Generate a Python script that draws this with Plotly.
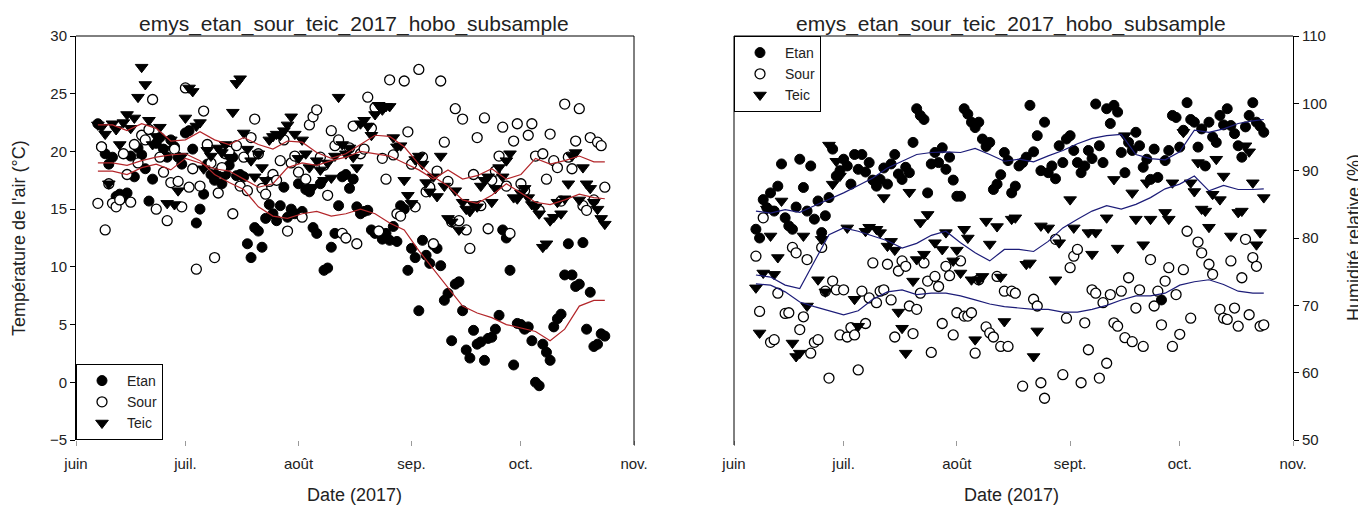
import plotly.graph_objects as go
import pandas as pd

# ---------------- data ----------------
dates = pd.date_range("2017-06-07", periods=140, freq="D")

temp_etan = [22.4, 20.4, 19.8, 18.9, 19.5, 16.1, 16.3, 16.0, 16.4, 19.6,
             17.8, 20.3, 19.7, 18.5, 15.7, 17.6, 20.7, 21.2, 20.2, 19.5,
             21.0, 20.4, 19.5, 18.9, 21.6, 21.8, 20.2, 13.8, 15.0, 16.3,
             18.9, 18.0, 17.5, 18.2, 17.2, 18.0, 18.8, 19.5, 17.9, 18.0,
             17.8, 12.0, 10.8, 13.4, 13.1, 11.7, 14.2, 15.4, 14.6, 14.0,
             15.3, 16.9, 14.3, 15.0, 14.6, 17.2, 14.8, 16.7, 16.5, 13.4,
             12.9, 17.2, 9.7, 9.9, 11.7, 12.9, 15.3, 17.8, 18.0, 16.8,
             17.6, 15.2, 14.6, 14.8, 14.9, 13.2, 12.9, 13.1, 12.4, 12.9,
             12.3, 13.5, 12.2, 15.3, 15.0, 9.7, 11.6, 10.8, 6.2, 12.3,
             11.0, 10.3, 11.9, 11.6, 10.1, 7.1, 7.7, 3.6, 8.5, 8.7,
             6.2, 2.8, 2.1, 4.5, 3.3, 3.5, 1.9, 3.8, 3.9, 4.6,
             5.8, 13.2, 12.5, 9.7, 1.5, 5.1, 5.0, 4.6, 4.8, 3.6,
             0.0, -0.3, 3.3, 2.6, 1.9, 4.8, 5.5, 5.9, 9.3, 12.0,
             9.3, 8.3, 8.5, 12.1, 4.6, 7.8, 3.1, 3.3, 4.2, 4.0]

temp_sour = [15.5, 20.4, 13.2, 17.2, 15.5, 15.2, 15.8, 19.8, 18.0, 15.6,
             20.6, 19.0, 21.4, 21.0, 21.9, 24.5, 15.0, 19.5, 18.2, 14.0,
             17.3, 20.2, 17.4, 15.2, 25.5, 16.9, 18.5, 9.8, 17.0, 23.5,
             20.6, 19.0, 10.8, 16.4, 18.6, 19.8, 20.0, 14.6, 20.5, 17.0,
             19.5, 16.6, 21.2, 22.8, 19.8, 16.8, 16.3, 17.4, 18.0, 17.5,
             19.2, 21.0, 13.1, 19.0, 19.6, 18.2, 14.3, 17.6, 22.3, 23.0,
             23.6, 19.5, 18.8, 16.2, 21.8, 20.5, 21.0, 12.9, 12.5, 20.3,
             22.2, 12.0, 19.8, 20.2, 24.7, 22.0, 23.8, 13.1, 19.4, 17.6,
             26.2, 19.7, 14.6, 14.4, 26.1, 21.7, 18.9, 15.2, 27.1, 19.5,
             16.5, 16.9, 12.0, 18.3, 26.1, 20.8, 17.4, 13.9, 23.7, 14.0,
             22.8, 13.2, 11.6, 18.0, 21.2, 15.3, 22.9, 13.3, 17.5, 18.3,
             19.6, 22.1, 17.0, 12.9, 20.9, 22.4, 17.2, 16.6, 21.4, 22.4,
             19.6, 14.9, 19.8, 17.6, 21.5, 19.2, 18.6, 15.7, 24.1, 19.5,
             18.5, 20.9, 23.7, 15.3, 14.9, 21.2, 15.8, 20.8, 20.5, 16.9]

temp_teic = [22.3, 22.1, 21.5, 17.2, 22.4, 21.9, 20.6, 22.5, 23.2, 22.0,
             22.9, 24.7, 27.3, 25.8, 22.7, 20.6, 21.3, 22.1, 20.2, 15.5,
             21.0, 15.4, 16.6, 19.6, 22.9, 25.5, 25.2, 22.2, 22.5, 18.5,
             20.1, 19.6, 18.0, 20.3, 19.9, 20.6, 19.5, 23.4, 25.9, 26.3,
             21.6, 20.2, 19.2, 17.8, 19.8, 18.6, 17.5, 21.0, 21.3, 21.5,
             21.4, 21.8, 22.3, 23.0, 21.5, 19.4, 21.0, 19.8, 18.6, 16.9,
             19.2, 18.4, 17.5, 19.0, 17.7, 19.6, 24.7, 20.6, 19.8, 20.3,
             19.5, 18.6, 22.4, 22.7, 22.2, 21.4, 23.2, 24.0, 23.6, 23.9,
             23.9, 21.2, 20.4, 20.5, 17.5, 16.2, 15.5, 19.3, 19.6, 18.9,
             17.3, 16.5, 17.8, 16.1, 19.6, 17.0, 14.2, 13.9, 16.6, 13.2,
             15.6, 15.0, 14.8, 15.4, 15.2, 17.0, 17.5, 17.8, 15.6, 16.8,
             18.6, 17.8, 19.2, 19.8, 16.0, 15.9, 16.4, 16.8, 16.0, 15.4,
             15.2, 14.6, 11.7, 12.0, 14.0, 14.3, 15.6, 14.6, 15.9, 17.2,
             19.6, 19.9, 15.8, 18.6, 17.2, 16.8, 15.6, 15.0, 14.2, 13.7]

hum_etan = [81.3, 80.0, 85.7, 84.5, 86.7, 84.0, 87.7, 91.0, 83.0, 81.8,
            81.3, 84.6, 91.7, 87.5, 84.0, 90.7, 82.8, 85.5, 80.8, 83.3,
            86.0, 93.2, 89.2, 90.0, 91.7, 90.7, 88.0, 92.4, 90.2, 92.4,
            89.8, 91.2, 88.6, 87.7, 88.7, 90.4, 88.0, 91.0, 92.4, 89.5,
            88.7, 90.5, 89.7, 94.2, 99.2, 98.2, 97.6, 86.7, 91.0, 92.7,
            91.2, 93.4, 90.2, 92.0, 88.6, 86.2, 86.2, 99.2, 98.4, 97.2,
            96.4, 97.2, 94.7, 93.6, 94.2, 87.2, 88.0, 89.4, 92.7, 91.5,
            86.7, 87.7, 90.7, 91.2, 92.0, 99.7, 92.8, 95.2, 90.0, 97.2,
            89.7, 90.7, 88.8, 93.7, 91.2, 94.7, 95.2, 93.0, 91.2, 89.7,
            90.7, 93.0, 91.8, 99.9, 93.7, 91.2, 99.2, 97.0, 99.7, 98.7,
            92.7, 89.7, 94.2, 93.0, 95.7, 93.7, 90.5, 91.7, 88.7, 93.2,
            89.0, 70.8, 91.5, 93.0, 98.2, 97.9, 93.5, 96.0, 100.1, 97.6,
            97.2, 93.5, 96.2, 90.7, 97.2, 95.0, 94.2, 98.2, 96.8, 99.2,
            96.7, 95.5, 93.7, 92.0, 96.5, 98.2, 100.1, 97.2, 96.6, 95.7]

hum_sour = [77.3, 69.1, 83.0, None, 64.5, 64.9, 71.8, None, 68.8, 68.9,
            78.6, 77.8, 66.4, 68.3, 76.8, 62.9, 64.5, 64.9, 78.6, 72.1,
            59.2, 73.6, 72.3, 65.6, 72.3, 65.3, 66.7, 65.6, 60.4, 72.1,
            67.3, 71.1, 76.3, 70.4, 72.1, 72.3, 76.1, 70.8, 65.3, 75.1,
            76.6, 75.8, 69.9, 65.8, 69.4, 71.8, 76.3, 73.6, 63.0, 74.3,
            72.8, 67.3, 75.8, 74.4, 65.6, 68.9, 76.6, 68.4, 68.4, 68.9,
            62.9, 73.8, None, 66.8, 65.9, 65.3, 74.3, 63.9, 72.1, 63.9,
            72.1, 71.8, None, 58.0, None, None, 70.9, 69.9, 58.5, 56.2,
            None, None, 79.8, None, 59.7, 68.1, 75.6, 77.3, 78.3, 58.5,
            67.4, 63.4, 72.3, 71.8, 59.2, 70.4, 61.4, 71.6, 67.4, 66.9,
            72.1, 65.2, 74.1, 64.6, 69.6, 72.3, 63.9, None, 76.8, 69.9,
            72.1, 67.1, 73.6, 75.6, 63.9, 71.6, 65.7, 75.3, 81.0, 68.1,
            None, 79.4, 77.8, None, 76.1, 74.6, None, 69.4, 68.1, 67.9,
            76.6, 69.6, 66.9, 74.1, 79.8, 68.6, 77.1, 75.8, 66.9, 67.1]

hum_teic = [72.6, 65.9, 74.8, 84.3, 80.3, 74.6, 77.1, 85.5, None, None,
            64.4, 62.4, 62.9, 80.3, 69.9, None, None, 73.8, 79.8, 72.0,
            93.8, 88.0, 91.4, 89.2, None, 81.5, None, 70.9, 66.9, None,
            81.0, 81.6, None, 81.3, 80.8, 86.0, 78.8, 79.5, 78.2, 69.0,
            66.6, 62.9, 86.8, 73.6, 76.8, 82.3, 77.6, 83.5, None, 79.3,
            None, 78.3, 80.8, None, 76.6, 78.2, 74.8, 81.3, 80.0, 73.8,
            64.9, 73.8, 74.3, 82.5, 79.1, None, 81.7, 74.2, 67.6, None,
            82.8, 83.0, None, None, 76.1, 76.3, 62.4, 66.2, 81.8, None,
            81.5, None, 73.8, 79.3, None, None, 85.7, 81.5, None, None,
            None, 80.8, 77.6, 80.8, None, None, 83.0, None, 88.7, 78.5,
            None, 95.2, None, 86.7, 82.8, None, 79.0, 88.2, 82.8, None,
            None, None, 83.8, 82.8, 88.2, None, None, 95.7, None, 88.2,
            86.9, 91.2, 84.3, 84.0, 81.6, 86.5, 91.7, 85.7, 89.2, None,
            80.3, None, 83.8, 84.0, 93.7, 92.8, 88.2, 79.0, 80.8, 86.0]

trend_dates = ["2017-06-07", "2017-06-11", "2017-06-15", "2017-06-19", "2017-06-23", "2017-06-27",
               "2017-07-01", "2017-07-05", "2017-07-09", "2017-07-13", "2017-07-17", "2017-07-21",
               "2017-07-25", "2017-07-29", "2017-08-02", "2017-08-06", "2017-08-10", "2017-08-14",
               "2017-08-18", "2017-08-22", "2017-08-26", "2017-08-30", "2017-09-03", "2017-09-07",
               "2017-09-11", "2017-09-15", "2017-09-19", "2017-09-23", "2017-09-27", "2017-10-01",
               "2017-10-05", "2017-10-09", "2017-10-13", "2017-10-17", "2017-10-21", "2017-10-24"]

trend_temp_etan = [19.0, 19.0, 18.8, 19.2, 19.5, 19.7, 19.8, 19.2, 18.0, 17.3, 16.7, 15.2,
                   14.4, 14.2, 14.6, 14.8, 14.4, 14.6, 15.0, 14.6, 13.8, 13.2, 11.4, 9.8,
                   8.2, 6.6, 6.0, 5.6, 5.0, 4.7, 4.4, 3.6, 4.6, 6.6, 7.1, 7.1]
trend_temp_sour = [18.3, 18.3, 18.0, 18.6, 18.9, 18.4, 19.4, 19.0, 18.5, 18.3, 17.6, 16.9,
                   17.2, 18.6, 19.0, 18.8, 19.2, 19.5, 20.0, 19.8, 19.6, 19.0, 18.4, 17.6,
                   18.4, 17.6, 17.9, 18.5, 17.6, 18.0, 19.4, 18.9, 19.2, 19.6, 19.1, 19.1]
trend_temp_teic = [22.3, 22.3, 21.8, 22.4, 22.0, 20.9, 21.0, 21.7, 21.0, 20.6, 21.2, 20.6,
                   20.2, 20.9, 20.8, 19.9, 19.4, 19.8, 20.6, 21.4, 21.3, 20.4, 18.9, 17.8,
                   17.0, 15.8, 15.5, 16.2, 17.2, 16.4, 15.6, 15.4, 15.8, 16.3, 16.0, 15.9]

trend_hum_etan = [84.0, 83.7, 84.2, 83.8, 84.8, 85.7, 86.7, 87.8, 88.9, 90.4, 91.4, 92.4,
                  92.7, 92.8, 92.7, 93.3, 92.4, 91.4, 91.7, 91.3, 92.2, 93.0, 94.0, 94.8,
                  95.2, 95.4, 92.4, 91.8, 91.6, 92.8, 96.0, 95.7, 96.2, 97.0, 97.4, 97.6]
trend_hum_sour = [73.2, 73.0, 72.0, 70.5, 69.8, 69.2, 68.6, 69.2, 70.9, 72.0, 72.3, 71.6,
                  71.8, 71.8, 71.4, 70.8, 70.2, 69.8, 69.6, 69.4, 69.4, 69.0, 69.0, 69.4,
                  70.0, 70.8, 71.4, 71.4, 71.8, 73.0, 73.5, 73.8, 73.1, 72.1, 71.8, 71.8]
trend_hum_teic = [74.5, 74.2, 73.0, 72.5, 76.5, 80.5, 81.5, 81.0, 80.3, 79.6, 78.5, 79.2,
                  80.4, 81.0, 79.3, 77.8, 76.6, 78.3, 78.3, 78.0, 79.5, 81.5, 82.8, 84.0,
                  84.8, 84.3, 85.0, 86.0, 87.3, 88.0, 89.2, 87.0, 87.8, 87.2, 87.2, 87.3]

month_ticks = ["2017-06-01", "2017-07-01", "2017-08-01", "2017-09-01", "2017-10-01", "2017-11-01"]
labels_left = ["juin", "juil.", "août", "sep.", "oct.", "nov."]
labels_right = ["juin", "juil.", "août", "sept.", "oct.", "nov."]

title_text = "emys_etan_sour_teic_2017_hobo_subsample"
series_names = ["Etan", "Sour", "Teic"]

# ---------------- figure ----------------
# The page adds an 8 px body margin, so the figure is sized to fill the rest of the window.
OFF = 8
W, H = 1366 - OFF, 505 - OFF
FONT = "Liberation Sans, Arial, sans-serif"


def px_x(p):
    return (p - OFF) / W


def px_y(p):
    return 1 - (p - OFF) / H


xl0, xl1 = px_x(76), px_x(634)
xr0, xr1 = px_x(734), px_x(1293)
yb, yt = px_y(440), px_y(36)

fig = go.Figure()

marker_styles = {
    "Etan": dict(symbol="circle", size=10, color="black", line=dict(color="black", width=1)),
    "Sour": dict(symbol="circle", size=10, color="white", line=dict(color="black", width=1.3)),
    "Teic": dict(symbol="triangle-down", size=11, color="black", line=dict(color="black", width=1)),
}

left_vals = {"Etan": temp_etan, "Sour": temp_sour, "Teic": temp_teic}
right_vals = {"Etan": hum_etan, "Sour": hum_sour, "Teic": hum_teic}
left_trends = {"Etan": trend_temp_etan, "Sour": trend_temp_sour, "Teic": trend_temp_teic}
right_trends = {"Etan": trend_hum_etan, "Sour": trend_hum_sour, "Teic": trend_hum_teic}

for name in series_names:
    fig.add_trace(go.Scatter(x=dates, y=left_vals[name], mode="markers", name=name,
                             marker=marker_styles[name], xaxis="x", yaxis="y",
                             legend="legend", hoverinfo="skip"))
for name in series_names:
    fig.add_trace(go.Scatter(x=pd.to_datetime(trend_dates), y=left_trends[name], mode="lines",
                             line=dict(color="#b3262a", width=1.2), showlegend=False,
                             xaxis="x", yaxis="y", hoverinfo="skip"))

for name in series_names:
    fig.add_trace(go.Scatter(x=dates, y=right_vals[name], mode="markers", name=name,
                             marker=marker_styles[name], xaxis="x2", yaxis="y2",
                             legend="legend2", hoverinfo="skip"))
for name in series_names:
    fig.add_trace(go.Scatter(x=pd.to_datetime(trend_dates), y=right_trends[name], mode="lines",
                             line=dict(color="#1c1c78", width=1.2), showlegend=False,
                             xaxis="x2", yaxis="y2", hoverinfo="skip"))

xaxis_common = dict(type="date", range=["2017-06-01", "2017-11-01"], tickvals=month_ticks,
                    showgrid=False, zeroline=False, showline=False, ticks="outside",
                    ticklen=5, tickcolor="#9a9a9a", tickwidth=1, automargin=False,
                    tickfont=dict(family=FONT, size=15, color="#222"), ticklabelstandoff=5)

yaxis_common = dict(showgrid=False, zeroline=False, showline=True, linecolor="black", linewidth=1,
                    ticks="outside", ticklen=5, tickcolor="black", tickwidth=1, automargin=False,
                    tickfont=dict(family=FONT, size=15, color="#222"))

fig.update_layout(
    width=W, height=H, autosize=False,
    margin=dict(l=0, r=0, t=0, b=0, pad=0, autoexpand=False),
    paper_bgcolor="white", plot_bgcolor="white",
    font=dict(family=FONT, color="#222"),
    xaxis=dict(domain=[xl0, xl1], anchor="y", ticktext=labels_left, **xaxis_common),
    yaxis=dict(domain=[yb, yt], anchor="x", range=[-5, 30], tickvals=[-5, 0, 5, 10, 15, 20, 25, 30],
               side="left", **yaxis_common),
    xaxis2=dict(domain=[xr0, xr1], anchor="y2", ticktext=labels_right, **xaxis_common),
    yaxis2=dict(domain=[yb, yt], anchor="x2", range=[50, 110], tickvals=[50, 60, 70, 80, 90, 100, 110],
                side="right", **yaxis_common),
    legend=dict(x=xl0, y=yb, xanchor="left", yanchor="bottom", bgcolor="white",
                bordercolor="black", borderwidth=1, itemwidth=40,
                font=dict(family=FONT, size=14, color="#222"), tracegroupgap=0),
    legend2=dict(x=xr0, y=yt, xanchor="left", yanchor="top", bgcolor="white",
                 bordercolor="black", borderwidth=1, itemwidth=40,
                 font=dict(family=FONT, size=14, color="#222"), tracegroupgap=0),
    showlegend=True,
)

# frames (top and outer side lines)
line_style = dict(color="black", width=1)
fig.add_shape(type="line", xref="paper", yref="paper", x0=xl0, x1=xl1, y0=yt, y1=yt, line=line_style)
fig.add_shape(type="line", xref="paper", yref="paper", x0=xl1, x1=xl1, y0=yt, y1=px_y(445), line=line_style)
fig.add_shape(type="line", xref="paper", yref="paper", x0=xr0, x1=xr1, y0=yt, y1=yt, line=line_style)
fig.add_shape(type="line", xref="paper", yref="paper", x0=xr0, x1=xr0, y0=yt, y1=px_y(445), line=line_style)

# titles
for cx in (px_x(354), px_x(1011)):
    fig.add_annotation(text=title_text, x=cx, y=px_y(24), xref="paper", yref="paper",
                       showarrow=False, font=dict(family=FONT, size=21, color="#222"),
                       xanchor="center", yanchor="middle")
    fig.add_annotation(text="Date (2017)", x=cx, y=px_y(495), xref="paper", yref="paper",
                       showarrow=False, font=dict(family=FONT, size=18, color="#222"),
                       xanchor="center", yanchor="middle")

fig.add_annotation(text="Température de l'air (°C)", x=px_x(19), y=px_y(238), xref="paper", yref="paper",
                   showarrow=False, textangle=-90, font=dict(family=FONT, size=18, color="#222"),
                   xanchor="center", yanchor="middle")
fig.add_annotation(text="Humidité relative (%)", x=px_x(1354), y=px_y(238), xref="paper", yref="paper",
                   showarrow=False, textangle=-90, font=dict(family=FONT, size=18, color="#222"),
                   xanchor="center", yanchor="middle")

fig.write_html("out.html")
